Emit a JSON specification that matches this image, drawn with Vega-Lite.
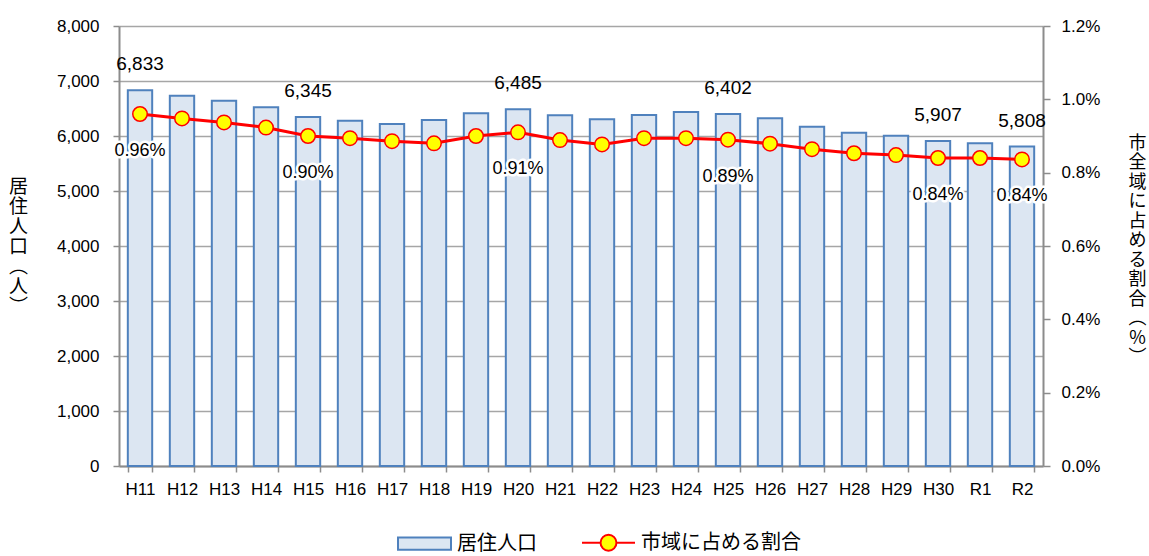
{
  "$schema": "https://vega.github.io/schema/vega-lite/v6.json",
  "width": 924,
  "height": 440,
  "autosize": {"type": "none"},
  "padding": {"left": 119, "top": 26, "right": 106, "bottom": 90},
  "config": {
    "view": {"stroke": null},
    "font": "Liberation Sans",
    "axis": {
      "labelFont": "Liberation Sans",
      "labelFontSize": 17,
      "labelColor": "#000000",
      "domainColor": "#8c8c8c",
      "domainWidth": 2,
      "tickColor": "#8c8c8c",
      "tickWidth": 1.5,
      "gridColor": "#a6a6a6",
      "gridWidth": 1.5,
      "titleFont": "Noto Sans CJK JP",
      "titleFontWeight": "normal",
      "titleColor": "#000000"
    }
  },
  "data": {
    "values": [
      {"年度": "H11", "居住人口": 6833, "割合": 0.0096},
      {"年度": "H12", "居住人口": 6733, "割合": 0.00948},
      {"年度": "H13", "居住人口": 6642, "割合": 0.00937},
      {"年度": "H14", "居住人口": 6521, "割合": 0.00923},
      {"年度": "H15", "居住人口": 6345, "割合": 0.0090},
      {"年度": "H16", "居住人口": 6279, "割合": 0.00894},
      {"年度": "H17", "居住人口": 6218, "割合": 0.00886},
      {"年度": "H18", "居住人口": 6290, "割合": 0.0088},
      {"年度": "H19", "居住人口": 6412, "割合": 0.0090},
      {"年度": "H20", "居住人口": 6485, "割合": 0.0091},
      {"年度": "H21", "居住人口": 6376, "割合": 0.00889},
      {"年度": "H22", "居住人口": 6303, "割合": 0.00877},
      {"年度": "H23", "居住人口": 6382, "割合": 0.00894},
      {"年度": "H24", "居住人口": 6436, "割合": 0.00894},
      {"年度": "H25", "居住人口": 6402, "割合": 0.0089},
      {"年度": "H26", "居住人口": 6322, "割合": 0.00879},
      {"年度": "H27", "居住人口": 6170, "割合": 0.00864},
      {"年度": "H28", "居住人口": 6060, "割合": 0.00853},
      {"年度": "H29", "居住人口": 6006, "割合": 0.00848},
      {"年度": "H30", "居住人口": 5907, "割合": 0.0084},
      {"年度": "R1", "居住人口": 5867, "割合": 0.0084},
      {"年度": "R2", "居住人口": 5808, "割合": 0.00836}
    ]
  },
  "encoding": {
    "x": {
      "field": "年度",
      "type": "nominal",
      "sort": null,
      "scale": {"paddingInner": 0.42, "paddingOuter": 0.21},
      "axis": {
        "title": null,
        "labelAngle": 0,
        "grid": false,
        "tickBand": "extent",
        "tickSize": 6,
        "labelPadding": 9
      }
    }
  },
  "layer": [
    {
      "encoding": {
        "y": {
          "field": "居住人口",
          "type": "quantitative",
          "scale": {"domain": [0, 8000]},
          "axis": {
            "orient": "left",
            "values": [0, 1000, 2000, 3000, 4000, 5000, 6000, 7000, 8000],
            "format": ",d",
            "grid": true,
            "tickSize": 6,
            "labelPadding": 14,
            "title": ["居", "住", "人", "口", "︵", "人", "︶"],
            "titleAngle": 0,
            "titleAlign": "center",
            "titleBaseline": "middle",
            "titleFontSize": 19,
            "titleLineHeight": 20,
            "titleX": -101,
            "titleY": 160
          }
        }
      },
      "layer": [
        {
          "mark": {"type": "bar", "fill": "#dce6f2", "strokeWidth": 2},
          "encoding": {
            "stroke": {
              "datum": "居住人口",
              "scale": {"domain": ["居住人口", "市域に占める割合"], "range": ["#4f81bd", "#ff0000"]},
              "legend": {
                "orient": "none",
                "legendX": 278,
                "legendY": 489,
                "direction": "horizontal",
                "title": null,
                "padding": 0,
                "symbolSize": 2809,
                "symbolStrokeWidth": 2,
                "labelOffset": 5,
                "columnPadding": 41,
                "labelLimit": 400,
                "labelFont": "Noto Sans CJK JP",
                "labelFontSize": 20,
                "labelColor": "#000000",
                "encoding": {
                  "symbols": {
                    "shape": {"value": {"expr": "datum.value === '居住人口' ? 'M-1,-0.23H1V0.23H-1Z' : 'M-1,0H-0.3M0.3,0H1M-0.3,0A0.3,0.3 0 1,0 0.3,0A0.3,0.3 0 1,0 -0.3,0Z'"}},
                    "fill": {"value": {"expr": "datum.value === '居住人口' ? '#dce6f2' : '#ffff00'"}},
                    "strokeWidth": {"value": 2},
                    "size": {"value": 2809},
                    "opacity": {"value": 1},
                    "fillOpacity": {"value": 1},
                    "strokeOpacity": {"value": 1}
                  }
                }
              }
            }
          }
        },
        {
          "transform": [{"filter": {"field": "年度", "oneOf": ["H11", "H15", "H20", "H25", "H30", "R2"]}}],
          "mark": {"type": "text", "baseline": "alphabetic", "dy": -20, "fontSize": 19, "color": "#000000"},
          "encoding": {
            "text": {"field": "居住人口", "type": "quantitative", "format": ","}
          }
        }
      ]
    },
    {
      "encoding": {
        "y": {
          "field": "割合",
          "type": "quantitative",
          "scale": {"domain": [0, 0.012]},
          "axis": {
            "orient": "right",
            "values": [0, 0.002, 0.004, 0.006, 0.008, 0.01, 0.012],
            "format": ".1%",
            "grid": false,
            "tickSize": 7,
            "labelPadding": 11,
            "title": ["市", "全", "域", "に", "占", "め", "る", "割", "合", "︵", "%", "︶"],
            "titleAngle": 0,
            "titleAlign": "center",
            "titleBaseline": "middle",
            "titleFontSize": 18,
            "titleLineHeight": 19.5,
            "titleX": 94,
            "titleY": 117
          }
        }
      },
      "layer": [
        {
          "mark": {"type": "line", "strokeWidth": 3},
          "encoding": {
            "stroke": {"datum": "市域に占める割合"}
          }
        },
        {
          "mark": {"type": "point", "shape": "circle", "filled": true, "fill": "#ffff00", "stroke": "#ff0000", "strokeWidth": 1.5, "size": 210, "opacity": 1}
        },
        {
          "transform": [{"filter": {"field": "年度", "oneOf": ["H11", "H15", "H20", "H25", "H30", "R2"]}}],
          "mark": {"type": "text", "baseline": "middle", "dy": 37, "fontSize": 18, "stroke": "#ffffff", "strokeWidth": 5, "strokeJoin": "round", "fill": "#ffffff"},
          "encoding": {
            "text": {"field": "割合", "type": "quantitative", "format": ".2%"}
          }
        },
        {
          "transform": [{"filter": {"field": "年度", "oneOf": ["H11", "H15", "H20", "H25", "H30", "R2"]}}],
          "mark": {"type": "text", "baseline": "middle", "dy": 37, "fontSize": 18, "color": "#000000"},
          "encoding": {
            "text": {"field": "割合", "type": "quantitative", "format": ".2%"}
          }
        }
      ]
    }
  ],
  "resolve": {"scale": {"y": "independent"}}
}
